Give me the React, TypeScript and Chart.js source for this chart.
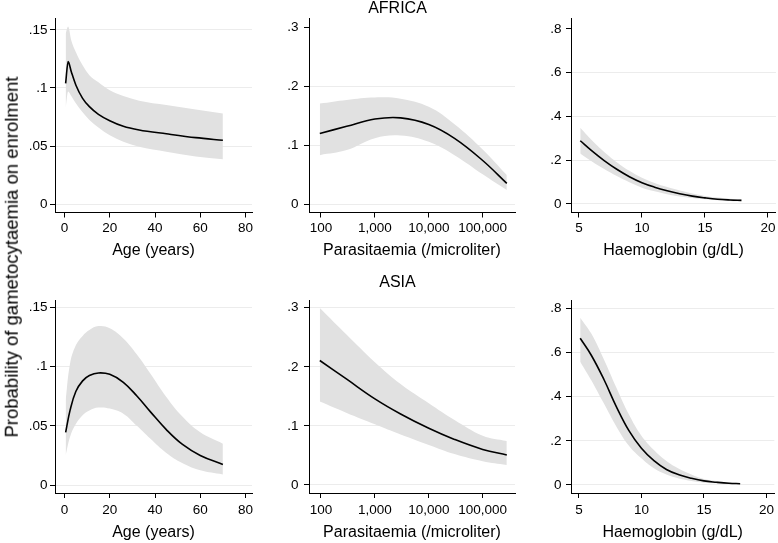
import React, { useEffect, useRef } from "react";
import { Chart, registerables } from "chart.js";

Chart.register(...registerables);

const FONT = '"Liberation Sans", Arial, Helvetica, sans-serif';
const BAND = "#e1e1e1";
const GRID = "#ececec";

// ---------- data ----------
// Age (years)
const africaAgeX = [0.5, 1.6, 3, 5, 8, 11, 15, 20, 26, 33, 45, 58, 70];
const africaAgeFit = [0.104, 0.1227, 0.114, 0.1026, 0.0911, 0.0839, 0.0773, 0.0718, 0.067, 0.0638, 0.0605, 0.0572, 0.0549];
const africaAgeUpper = [0.147, 0.153, 0.141, 0.131, 0.1195, 0.111, 0.105, 0.098, 0.093, 0.089, 0.0853, 0.0815, 0.078];
const africaAgeLower = [0.0828, 0.097, 0.093, 0.0868, 0.079, 0.0724, 0.066, 0.0593, 0.0537, 0.0494, 0.0451, 0.041, 0.0385];

const asiaAgeX = [0.5, 2.5, 5, 8, 11, 15, 20, 26, 32, 38, 45, 52, 60, 70];
const asiaAgeFit = [0.0445, 0.0635, 0.079, 0.088, 0.0925, 0.0947, 0.0935, 0.0868, 0.0752, 0.0618, 0.0468, 0.0345, 0.025, 0.0174];
const asiaAgeUpper = [0.0716, 0.103, 0.118, 0.126, 0.131, 0.1343, 0.1325, 0.1238, 0.1102, 0.094, 0.0744, 0.058, 0.0445, 0.0349];
const asiaAgeLower = [0.025, 0.041, 0.0515, 0.059, 0.063, 0.0654, 0.0646, 0.0603, 0.05, 0.039, 0.027, 0.0185, 0.0124, 0.0089];

// Parasitaemia (/microliter)
const paraX = [95, 300, 1000, 3000, 10000, 30000, 100000, 280000];
const africaParaFit = [0.1198, 0.1319, 0.1442, 0.1462, 0.135, 0.1115, 0.0739, 0.035];
const africaParaUpper = [0.1706, 0.1768, 0.1808, 0.1788, 0.165, 0.1355, 0.0927, 0.0492];
const africaParaLower = [0.083, 0.0915, 0.1116, 0.1162, 0.1056, 0.0829, 0.0505, 0.0237];

const asiaParaFit = [0.2107, 0.179, 0.1458, 0.1202, 0.096, 0.0771, 0.0602, 0.0508];
const asiaParaUpper = [0.2994, 0.2542, 0.2078, 0.1709, 0.1384, 0.11, 0.0835, 0.0745];
const asiaParaLower = [0.1412, 0.122, 0.1028, 0.0854, 0.0678, 0.0524, 0.0403, 0.0339];

// Haemoglobin (g/dL)
const hbX = [5.1, 6, 7, 8, 9, 10, 11, 12, 13, 14, 15, 16, 17, 17.9];
const africaHbFit = [0.289, 0.2437, 0.1983, 0.1586, 0.1248, 0.0974, 0.077, 0.0606, 0.047, 0.0359, 0.0279, 0.0216, 0.0183, 0.0167];
const africaHbUpper = [0.3485, 0.2924, 0.2379, 0.191, 0.1518, 0.1202, 0.0962, 0.0772, 0.0613, 0.0478, 0.037, 0.0298, 0.0244, 0.0213];
const africaHbLower = [0.2313, 0.1954, 0.1595, 0.1276, 0.0992, 0.0746, 0.0578, 0.0449, 0.0347, 0.0274, 0.0213, 0.0175, 0.0142, 0.0122];

const asiaHbFit = [0.6642, 0.5864, 0.4776, 0.354, 0.246, 0.166, 0.11, 0.0705, 0.0465, 0.0305, 0.0187, 0.0125, 0.0078, 0.006];
const asiaHbUpper = [0.7577, 0.6843, 0.5682, 0.4403, 0.3194, 0.2234, 0.1585, 0.1088, 0.0737, 0.0481, 0.0272, 0.0186, 0.0116, 0.0075];
const asiaHbLower = [0.5585, 0.4732, 0.3686, 0.2642, 0.1777, 0.1208, 0.0755, 0.0471, 0.0293, 0.0183, 0.0106, 0.0077, 0.005, 0.003];

// ticks
const ageTicks = [0, 20, 40, 60, 80];
const ageTickLabels = ["0", "20", "40", "60", "80"];
const paraTicks = [100, 1000, 10000, 100000];
const paraTickLabels = ["100", "1,000", "10,000", "100,000"];
const hbTicks = [5, 10, 15, 20];
const hbTickLabels = ["5", "10", "15", "20"];

const probAgeTicks = [0, 0.05, 0.1, 0.15];
const probAgeLabels = ["0", ".05", ".1", ".15"];
const probParaTicks = [0, 0.1, 0.2, 0.3];
const probParaLabels = ["0", ".1", ".2", ".3"];
const probHbTicks = [0, 0.2, 0.4, 0.6, 0.8];
const probHbLabels = ["0", ".2", ".4", ".6", ".8"];

const regionTitles = ["AFRICA", "ASIA"];
const xTitles = ["Age (years)", "Parasitaemia (/microliter)", "Haemoglobin (g/dL)"];
const yTitle = "Probability of gametocytaemia on enrolment";

// ---------- panel ----------
type PanelProps = {
  left: number; top: number; w: number; h: number;
  padTop: number; padRight: number; yWidth: number; xHeight: number;
  xType: "linear" | "logarithmic"; xMin: number; xMax: number;
  xTicks: number[]; xLabels: string[]; xTitle: string;
  yMin: number; yMax: number; yTicks: number[]; yLabels: string[];
  xs: number[]; fit: number[]; upper: number[]; lower: number[];
  title?: string; titlePad?: { top: number; bottom: number };
  hideTopGrid?: boolean; xTickPad: number; yTickPad: number; xTitlePadBottom: number;
  monotone?: boolean;
};

const pts = (xs: number[], ys: number[]) => xs.map((x, i) => ({ x, y: ys[i] }));

function Panel(p: PanelProps) {
  const ref = useRef<HTMLCanvasElement>(null);
  useEffect(() => {
    const topTick = p.yTicks[p.yTicks.length - 1];
    const curve = p.monotone
      ? { cubicInterpolationMode: "monotone" }
      : { cubicInterpolationMode: "default", tension: 0.4 };
    const chart = new Chart(ref.current as HTMLCanvasElement, {
      type: "line",
      data: {
        datasets: [
          {
            data: pts(p.xs, p.fit),
            borderColor: "#000",
            borderWidth: 1.6,
            pointRadius: 0,
            fill: false,
            ...curve,
          },
          {
            data: pts(p.xs, p.upper),
            borderColor: "rgba(0,0,0,0)",
            borderWidth: 0,
            backgroundColor: BAND,
            pointRadius: 0,
            fill: "+1",
            ...curve,
          },
          {
            data: pts(p.xs, p.lower),
            borderColor: "rgba(0,0,0,0)",
            borderWidth: 0,
            pointRadius: 0,
            fill: false,
            ...curve,
          },
        ],
      } as any,
      options: {
        animation: false,
        responsive: false,
        maintainAspectRatio: false,
        events: [],
        layout: { padding: { top: p.padTop, right: p.padRight, left: 0, bottom: 0 } },
        plugins: {
          legend: { display: false },
          tooltip: { enabled: false },
          title: p.title
            ? {
                display: true,
                text: p.title,
                color: "#000",
                font: { family: FONT, size: 16, weight: "normal", lineHeight: 1 },
                padding: p.titlePad,
              }
            : { display: false },
        },
        scales: {
          x: {
            type: p.xType,
            min: p.xMin,
            max: p.xMax,
            afterBuildTicks: (s: any) => {
              s.ticks = p.xTicks.map((v) => ({ value: v }));
            },
            afterFit: (s: any) => {
              s.height = p.xHeight;
            },
            ticks: {
              autoSkip: false,
              maxRotation: 0,
              minRotation: 0,
              color: "#000",
              padding: p.xTickPad,
              font: { family: FONT, size: 13.5 },
              callback: (_v: any, i: number) => p.xLabels[i],
            },
            grid: { drawOnChartArea: false, tickLength: 5, tickColor: "#000", tickWidth: 1 },
            border: { display: true, color: "#000", width: 1 },
            title: {
              display: true,
              text: p.xTitle,
              color: "#000",
              font: { family: FONT, size: 16, lineHeight: 1 },
              padding: { top: 0, bottom: p.xTitlePadBottom },
            },
          },
          y: {
            type: "linear",
            min: p.yMin,
            max: p.yMax,
            afterBuildTicks: (s: any) => {
              s.ticks = p.yTicks.map((v) => ({ value: v }));
            },
            afterFit: (s: any) => {
              s.width = p.yWidth;
            },
            ticks: {
              color: "#000",
              padding: p.yTickPad,
              font: { family: FONT, size: 13.5 },
              callback: (_v: any, i: number) => p.yLabels[i],
            },
            grid: {
              color: (ctx: any) =>
                p.hideTopGrid && ctx.tick && ctx.tick.value === topTick ? "rgba(0,0,0,0)" : GRID,
              lineWidth: 1,
              tickLength: 5,
              tickColor: "#000",
              tickWidth: 1,
            },
            border: { display: true, color: "#000", width: 1 },
          },
        },
      } as any,
    });
    return () => chart.destroy();
  }, []);
  return (
    <canvas
      ref={ref}
      width={p.w}
      height={p.h}
      style={{ position: "absolute", left: p.left, top: p.top, width: p.w, height: p.h }}
    />
  );
}

// ---------- layout ----------
const col1 = { left: 20, w: 240, yWidth: 35, padRight: 8, xType: "linear" as const, xMin: -4.2, xMax: 82.87, xTicks: ageTicks, xLabels: ageTickLabels, xTitle: xTitles[0], yTickPad: 2.5 };
const col2 = { left: 280, w: 252, yWidth: 29, padRight: 17, xType: "logarithmic" as const, xMin: 59.9, xMax: 397500, xTicks: paraTicks, xLabels: paraTickLabels, xTitle: xTitles[1], xs: paraX, yTickPad: 5.5 };
const col3 = { left: 522, w: 256, yWidth: 49, padRight: 2, xType: "linear" as const, xMin: 4.365, xMax: 20.635, xTicks: hbTicks, xLabels: hbTickLabels, xTitle: xTitles[2], xs: hbX, yTickPad: 4.5 };
const row1 = { top: 0, h: 270, padTop: 18, xHeight: 57.5, xTickPad: 2.5, xTitlePadBottom: 11 };
const row2 = { top: 270, h: 273, padTop: 30, xHeight: 50, xTickPad: 4, xTitlePadBottom: 2 };

export default function App() {
  return (
    <div style={{ position: "absolute", left: 0, top: 0, width: 778, height: 543, background: "#fff", overflow: "hidden" }}>
      <Panel {...col1} {...row1} xs={africaAgeX} fit={africaAgeFit} upper={africaAgeUpper} lower={africaAgeLower}
        yMin={-0.0073} yMax={0.1603} yTicks={probAgeTicks} yLabels={probAgeLabels} monotone />
      <Panel {...col2} {...row1} padTop={0} title={regionTitles[0]} titlePad={{ top: 0.5, bottom: 1.5 }}
        fit={africaParaFit} upper={africaParaUpper} lower={africaParaLower}
        yMin={-0.0144} yMax={0.3158} yTicks={probParaTicks} yLabels={probParaLabels} hideTopGrid />
      <Panel {...col3} {...row1} fit={africaHbFit} upper={africaHbUpper} lower={africaHbLower}
        yMin={-0.0389} yMax={0.85} yTicks={probHbTicks} yLabels={probHbLabels} hideTopGrid />

      <Panel {...col1} {...row2} xs={asiaAgeX} fit={asiaAgeFit} upper={asiaAgeUpper} lower={asiaAgeLower}
        yMin={-0.00676} yMax={0.15634} yTicks={probAgeTicks} yLabels={probAgeLabels} />
      <Panel {...col2} {...row2} padTop={0} title={regionTitles[1]} titlePad={{ top: 4.8, bottom: 9.2 }}
        fit={asiaParaFit} upper={asiaParaUpper} lower={asiaParaLower}
        yMin={-0.01354} yMax={0.31303} yTicks={probParaTicks} yLabels={probParaLabels} />
      <Panel {...col3} {...row2} fit={asiaHbFit} upper={asiaHbUpper} lower={asiaHbLower}
        yMin={-0.03622} yMax={0.83757} yTicks={probHbTicks} yLabels={probHbLabels} />

      <div
        style={{
          position: "absolute",
          left: 12,
          top: 256.5,
          transform: "translate(-50%, -50%) rotate(-90deg)",
          whiteSpace: "nowrap",
          fontFamily: FONT,
          fontSize: 18.5,
          lineHeight: 1,
          color: "#000",
        }}
      >
        {yTitle}
      </div>
    </div>
  );
}
